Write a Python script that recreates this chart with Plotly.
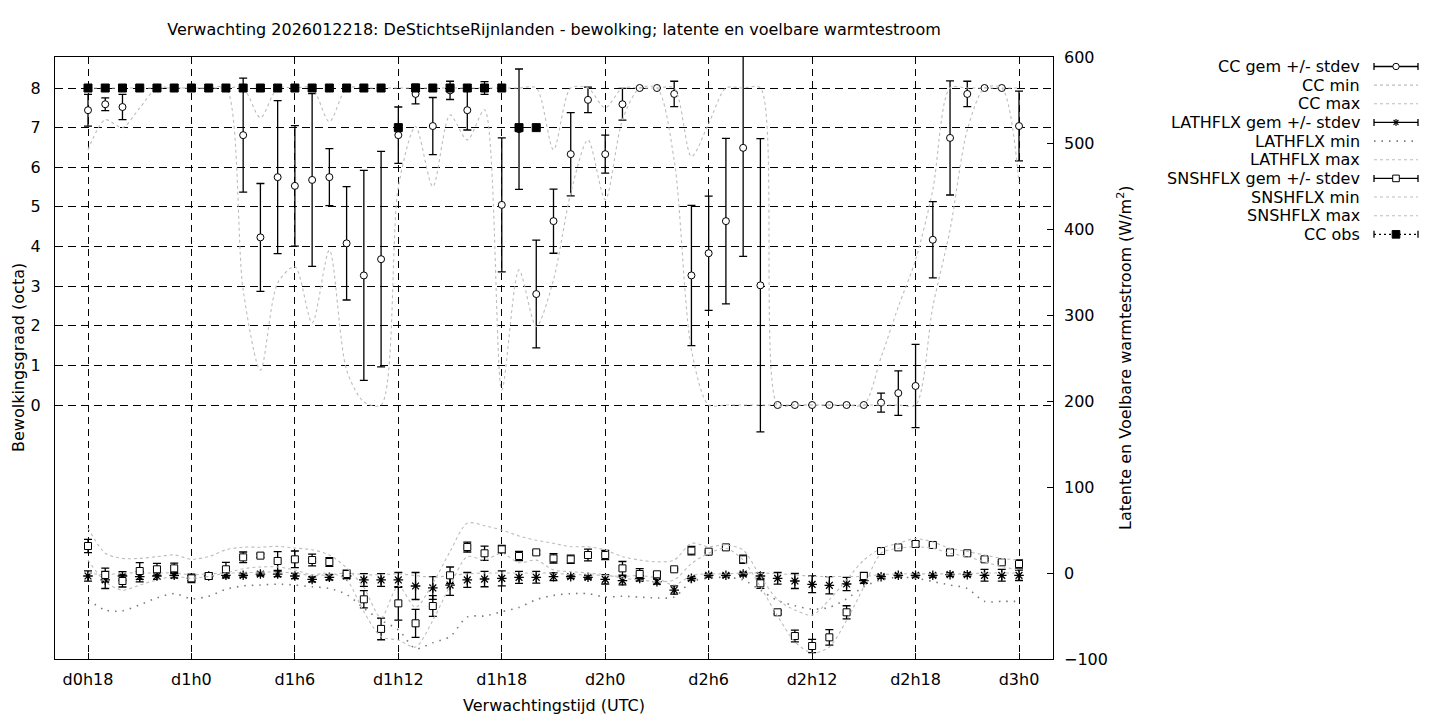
import plotly.graph_objects as go

# ---------------- data ----------------
hours = list(range(18, 73))
tick_hours = [18, 24, 30, 36, 42, 48, 54, 60, 66, 72]
tick_labels = ["d0h18", "d1h0", "d1h6", "d1h12", "d1h18", "d2h0", "d2h6", "d2h12", "d2h18", "d3h0"]

cc_mean = [7.44, 7.59, 7.52, 8, 8, 8, 8, 8, 8, 6.81, 4.23, 5.75, 5.53, 5.68, 5.75, 4.08, 3.27, 3.68,
           6.81, 7.85, 7.04, 7.94, 7.44, 8.0, 5.05, 6.96, 2.8, 4.64, 6.33, 7.7, 6.33, 7.59, 8, 8, 7.85,
           3.27, 3.83, 4.64, 6.49, 3.02, 0, 0, 0, 0, 0, 0, 0.06, 0.3, 0.48, 4.17, 6.74, 7.85, 8, 8, 7.04]
cc_sd = [0.40, 0.16, 0.32, 0, 0, 0, 0, 0, 0, 1.44, 1.36, 1.93, 1.52, 2.18, 0.72, 1.43, 2.65, 2.72,
         0.71, 0.25, 0.72, 0.23, 0.50, 0.16, 1.69, 1.52, 1.36, 0.81, 1.05, 0.32, 0.48, 0.40, 0, 0, 0.32,
         1.77, 1.44, 2.09, 2.74, 3.70, 0, 0, 0, 0, 0, 0, 0.24, 0.56, 1.05, 0.96, 1.44, 0.32, 0, 0, 0.88]
cc_min = [6.44, 7.2, 7.0, 7.5, 8, 8, 8, 8, 8,
          2.9, 0.88, 3.08, 3.49, 2.07, 3.91, 0.88, 0.08, 0,
          5.5, 7.03, 5.51, 7.32, 6.69, 7.45, 0.38, 3.41, 1.98,
          3.16, 5.35, 6.69, 5.18, 7.2, 8, 8, 6.18, 1.39,
          0, 0, 0, 0, 0, 0, 0, 0, 0, 0, 0, 0, 0,
          2.48, 4.42, 6.94, 8, 8, 5.6]
cc_max = [8, 8, 8, 8, 8, 8, 8, 8, 8, 8, 7.25, 8, 8, 8, 7.15,
          8, 8, 8, 8, 8, 8, 8, 8, 8, 8, 8, 8, 6.44, 8, 8, 7.5, 8, 8, 8, 8,
          6.27, 7.1, 8, 8, 8, 0, 0, 0, 0, 0, 0, 1.2, 2.48, 3.66, 5.43, 8, 8, 8, 8, 8]
obs_hours = list(range(18, 45))
cc_obs = [8] * 18 + [7] + [8] * 6 + [7, 7]

lat_mean = [-3.5, -8, -3.5, -4.3, -3.5, -2.7, -6, -3.5, -2.7, -2.7, -1.2, -1.2, -3.5, -7.4, -5, -3.5,
            -8.1, -8.1, -8.1, -15.1, -17.4, -14, -8.1, -7, -6.2, -5, -5, -4.3, -4.3, -5, -7.4, -8.9,
            -6.2, -10, -19.8, -6.2, -2.7, -2.7, -1.2, -3.5, -6.2, -9.3, -13.2, -14.3, -12.8, -8.9,
            -4.3, -2.7, -2.7, -2.7, -2, -2, -2.7, -2.7, -2.7]
lat_sd = [6, 10, 5, 6, 4, 3, 3, 2, 3, 2, 2, 3, 3, 3, 3, 3, 7.4, 7.4, 8.7, 15.7, 13.2, 12, 8.7, 9, 8.7,
          7, 6.8, 4.6, 2, 2, 5.4, 4.8, 3, 3, 4.8, 2, 2, 2, 2, 4, 6.8, 8.7, 9.7, 10, 7.8, 3, 2, 2, 2, 2,
          2, 2, 6.8, 6.8, 6]
lat_min = [-31, -43, -44, -37, -29, -24, -30, -27, -19, -15, -14, -13, -14, -16, -18, -25, -41, -55,
           -66, -88, -81, -74, -51, -50, -45, -40, -31, -26, -24, -24, -28, -27, -28, -29, -28, -10,
           -6, -5, -8, -20, -32, -38, -42, -40, -30, -16, -8, -5, -6, -10, -14, -18, -33, -33, -33]
lat_max = [0, -2, 0, 0, 0, 0, -2, -1, 0, 0, 1, 1, 0, -3, -2, 0, -2, -2, -1, -3, -5, -3, -1, 0, 0, 0,
           0, 0, -2, -2, -3, -4, -3, -6, -14, -3, -1, -1, 0, 0, -1, -2, -4, -4, -4, -4, -2, -1, -1,
           -1, -1, -1, 0, 0, 0]

sns_mean = [31.4, -2.3, -9.3, 2.3, 4.3, 5.4, -6.2, -3.5, 4.3, 18.2, 20.2, 14, 15.9, 15.1, 12.8, -1.2,
            -30.6, -65, -35.3, -58.5, -38.4, -2.7, 30.2, 22.9, 27.5, 19.8, 24, 17, 15.9, 20.9, 20.9,
            5.4, -1.2, -1.5, 4.3, 26, 24.8, 29.8, 15.9, -12, -45.7, -73.3, -84.9, -74.8, -45.7, -3.5,
            25.6, 29.8, 33.7, 32.6, 24, 22.9, 15.9, 12.4, 10.5]
sns_sd = [7.8, 8, 7, 9.7, 6.8, 6, 5, 3.5, 8, 6.2, 2, 10.9, 9.7, 6.8, 5, 4.5, 10, 12.6, 19.4, 16.3, 12,
          9.7, 5.8, 8.3, 4.5, 5.4, 2, 5.4, 4.8, 6.8, 5.4, 8, 6.4, 2, 1, 5, 1, 1, 4.8, 5.8, 2, 6.8, 7.8,
          9, 7.6, 4.3, 1, 1, 3, 1, 1, 1, 1, 1, 4.8]
sns_min = [15, -10, -20, -14, -8, -4, -6, -4, 0, 5, 7, 7, 3.5, -2, 0, -8, -45, -74, -78, -86, -55,
           -15, 19, 15, 23, 12, 15, 3.5, 1.6, 0, -2, -6, -8, -10, -8, 11, 23, 28.7, 15, -16, -50, -80,
           -93, -86, -55, -16, 23, 28.7, 30.6, 28.7, 23, 19, 13, 7.4, 3.5]
sns_max = [52, 23, 17, 17, 19, 21, 16, 19, 27, 30, 30, 31, 29, 27, 21, 6, -17, -52, -15, -40, -12, 25,
           58, 55, 50, 43, 38, 34.5, 30.6, 30.6, 26.7, 19, 15, 13, 15, 34.5, 30.6, 32.6, 26.7, -4, -31,
           -43, -49, -31, -8, 15, 28.7, 34.5, 40, 36, 28.7, 25, 21, 17, 15]

title = "Verwachting 2026012218: DeStichtseRijnlanden - bewolking; latente en voelbare warmtestroom"
legend_names = ["CC gem +/- stdev", "CC min", "CC max", "LATHFLX gem +/- stdev", "LATHFLX min",
                "LATHFLX max", "SNSHFLX gem +/- stdev", "SNSHFLX min", "SNSHFLX max", "CC obs"]

# ---------------- figure ----------------
FONT = "DejaVu Sans"
FS = 16
OFF = 8                      # page body margin of the html page
W, H = 1440 - 2 * OFF, 720 - OFF
# plot-area edges in page pixels, converted to figure pixels
L, R, T, B = 55 - OFF, 1053 - OFF, 57 - OFF, 659 - OFF


def nz(a):
    return [v if v > 0 else None for v in a]


def err(a):
    return dict(type="data", array=nz(a), visible=True, color="black", thickness=1.3, width=4)


grey = "#bdbdbd"
dotline = dict(color=grey, width=1.1, dash="dot", shape="spline", smoothing=0.8)
sparse = dict(color="#7a7a7a", width=1.6, dash="1.5px,6px", shape="spline", smoothing=0.8)

fig = go.Figure()
fig.add_trace(go.Scatter(x=hours, y=cc_mean, mode="markers", error_y=err(cc_sd),
                         marker=dict(symbol="circle", size=7, color="white",
                                     line=dict(color="black", width=1)), name=legend_names[0]))
fig.add_trace(go.Scatter(x=hours, y=cc_min, mode="lines", line=dotline, name=legend_names[1]))
fig.add_trace(go.Scatter(x=hours, y=cc_max, mode="lines", line=dotline, name=legend_names[2]))
fig.add_trace(go.Scatter(x=hours, y=lat_mean, mode="markers", error_y=err(lat_sd), yaxis="y2",
                         marker=dict(symbol="asterisk-open", size=8, color="black",
                                     line=dict(color="black", width=1.3)), name=legend_names[3]))
fig.add_trace(go.Scatter(x=hours, y=lat_min, mode="lines", line=sparse, yaxis="y2", name=legend_names[4]))
fig.add_trace(go.Scatter(x=hours, y=lat_max, mode="lines", line=dotline, yaxis="y2", name=legend_names[5]))
fig.add_trace(go.Scatter(x=hours, y=sns_mean, mode="markers", error_y=err(sns_sd), yaxis="y2",
                         marker=dict(symbol="square", size=7, color="white",
                                     line=dict(color="black", width=1)), name=legend_names[6]))
fig.add_trace(go.Scatter(x=hours, y=sns_min, mode="lines", line=dotline, yaxis="y2", name=legend_names[7]))
fig.add_trace(go.Scatter(x=hours, y=sns_max, mode="lines", line=dotline, yaxis="y2", name=legend_names[8]))
fig.add_trace(go.Scatter(x=obs_hours, y=cc_obs, mode="markers",
                         marker=dict(symbol="square", size=8, color="black",
                                     line=dict(color="black", width=1)), name=legend_names[9]))


# ---------------- manual gnuplot-style key (page pixel positions) ----------------
def px_x(px):
    return (px - OFF - L) / (R - L)


def px_y(py):
    return (B - (py - OFF)) / (B - T)


shapes = []
annotations = []
row0, dy = 66.5, 18.65
sx0, sx1, sxc = 1374, 1418, 1396
kinds = ["err_circle", "dot", "dot", "err_star", "sparse", "dot", "err_square", "dot", "dot", "obs"]


def seg(x0, y0, x1, y1, color="black", width=1.3, dash="solid"):
    shapes.append(dict(type="line", xref="paper", yref="paper", x0=px_x(x0), y0=px_y(y0),
                       x1=px_x(x1), y1=px_y(y1), line=dict(color=color, width=width, dash=dash)))


for i, (name, kind) in enumerate(zip(legend_names, kinds)):
    yy = row0 + i * dy
    annotations.append(dict(x=px_x(1362), y=px_y(yy), xref="paper", yref="paper", text=name,
                            showarrow=False, xanchor="right", yanchor="middle",
                            font=dict(family=FONT, size=FS, color="black")))
    if kind.startswith("err") or kind == "obs":
        seg(sx0, yy, sx1, yy, dash="solid" if kind != "obs" else "2px,3px")
        seg(sx0, yy - 3.5, sx0, yy + 3.5)
        seg(sx1, yy - 3.5, sx1, yy + 3.5)
        if kind == "err_circle":
            shapes.append(dict(type="circle", xref="paper", yref="paper", x0=px_x(sxc - 3.2),
                               x1=px_x(sxc + 3.2), y0=px_y(yy + 3.2), y1=px_y(yy - 3.2),
                               fillcolor="white", line=dict(color="black", width=1)))
        elif kind == "err_square":
            shapes.append(dict(type="rect", xref="paper", yref="paper", x0=px_x(sxc - 3.3),
                               x1=px_x(sxc + 3.3), y0=px_y(yy + 3.3), y1=px_y(yy - 3.3),
                               fillcolor="white", line=dict(color="black", width=1)))
        elif kind == "obs":
            shapes.append(dict(type="rect", xref="paper", yref="paper", x0=px_x(sxc - 3.8),
                               x1=px_x(sxc + 3.8), y0=px_y(yy + 3.8), y1=px_y(yy - 3.8),
                               fillcolor="black", line=dict(color="black", width=1)))
        elif kind == "err_star":
            r = 3.5
            seg(sxc - r, yy, sxc + r, yy, width=1.1)
            seg(sxc, yy - r, sxc, yy + r, width=1.1)
            seg(sxc - r * 0.7, yy - r * 0.7, sxc + r * 0.7, yy + r * 0.7, width=1.1)
            seg(sxc - r * 0.7, yy + r * 0.7, sxc + r * 0.7, yy - r * 0.7, width=1.1)
    elif kind == "dot":
        seg(sx0, yy, sx1, yy, color=grey, width=1.1, dash="dot")
    elif kind == "sparse":
        seg(sx0, yy, sx1, yy, color="#7a7a7a", width=1.6, dash="1.5px,6px")

# axis titles as annotations
annotations.append(dict(x=0.5, y=px_y(705), xref="paper", yref="paper", text="Verwachtingstijd (UTC)",
                        showarrow=False, xanchor="center", yanchor="middle",
                        font=dict(family=FONT, size=FS, color="black")))
annotations.append(dict(x=px_x(18), y=0.5, xref="paper", yref="paper", text="Bewolkingsgraad (octa)",
                        showarrow=False, textangle=-90, xanchor="center", yanchor="middle",
                        font=dict(family=FONT, size=FS, color="black")))
annotations.append(dict(x=px_x(1124), y=0.5, xref="paper", yref="paper",
                        text="Latente en Voelbare warmtestroom (W/m<sup>2</sup>)",
                        showarrow=False, textangle=-90, xanchor="center", yanchor="middle",
                        font=dict(family=FONT, size=FS, color="black")))

# axis ranges so that the ticks land where the reference puts them
px_per_h = (1019 - 88) / 54.0
x_lo = 18 - (88 - 55) / px_per_h
x_hi = 72 + (1053 - 1019) / px_per_h
px_per_oct = (405 - 88) / 8.0
y_hi = 8 + (88 - 57) / px_per_oct
y_lo = -(659 - 405) / px_per_oct

fig.update_layout(
    width=W, height=H, autosize=False,
    margin=dict(l=L, r=W - R, t=T, b=H - B, pad=0),
    paper_bgcolor="white", plot_bgcolor="white",
    showlegend=False,
    font=dict(family=FONT, size=FS, color="black"),
    title=dict(text=title, x=0.5, xref="paper", xanchor="center", y=1 - (29 - OFF) / H, yanchor="middle",
               font=dict(family=FONT, size=FS, color="black")),
    xaxis=dict(range=[x_lo, x_hi], tickmode="array", tickvals=tick_hours, ticktext=tick_labels,
               ticks="inside", ticklen=6, tickcolor="black", showline=True, linecolor="black",
               linewidth=1, mirror="ticks", showgrid=True, gridcolor="black", gridwidth=1,
               griddash="7px,5px", zeroline=False, ticklabelstandoff=6),
    yaxis=dict(range=[y_lo, y_hi], tickmode="array", tickvals=list(range(0, 9)),
               ticks="inside", ticklen=6, tickcolor="black", showline=True, linecolor="black",
               linewidth=1, mirror=True, showgrid=True, gridcolor="black", gridwidth=1,
               griddash="8px,5px", zeroline=False, ticklabelstandoff=10),
    yaxis2=dict(range=[-100, 600], overlaying="y", side="right", tickmode="array",
                tickvals=list(range(-100, 601, 100)), ticks="inside", ticklen=6, tickcolor="black",
                showline=False, showgrid=False, zeroline=False, ticklabelstandoff=10),
    shapes=shapes, annotations=annotations,
)

fig.write_html("out.html")
